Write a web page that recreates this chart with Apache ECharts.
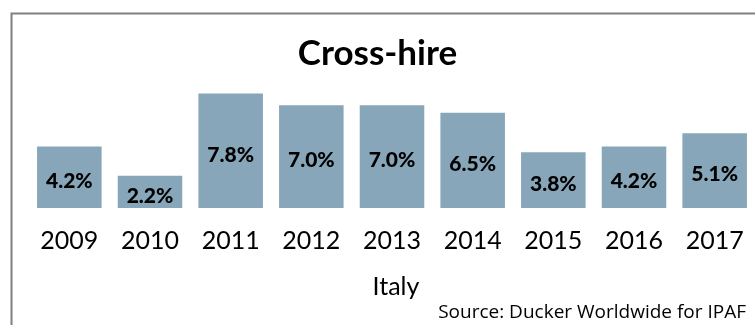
<!DOCTYPE html>
<html>
<head>
<meta charset="utf-8">
<script src="https://cdn.jsdelivr.net/npm/echarts@6/dist/echarts.min.js"></script>
<style>
html,body{margin:0;padding:0;background:#fff;}
#c{width:755px;height:325px;}
</style>
</head>
<body>
<div id="c"></div>
<script>
const categories = ['2009','2010','2011','2012','2013','2014','2015','2016','2017'];
const values = [4.2, 2.2, 7.8, 7.0, 7.0, 6.5, 3.8, 4.2, 5.1];
const titleText = 'Cross-hire';
const axisName = 'Italy';
const sourceText = 'Source: Ducker Worldwide for IPAF';

const FONT = 'Lato, "Open Sans", sans-serif';
const chart = echarts.init(document.getElementById('c'), null, {renderer: 'canvas'});
chart.setOption({
  backgroundColor: '#fff',
  animation: false,
  title: {
    text: titleText,
    left: 'center',
    top: 30,
    textStyle: {fontFamily: FONT, fontWeight: 'bold', fontSize: 35, color: '#000', lineHeight: 38}
  },
  grid: {left: 29, right: -5, top: 61.3, bottom: 117, containLabel: false},
  xAxis: {
    type: 'category',
    data: categories,
    axisLine: {show: false},
    axisTick: {show: false},
    axisLabel: {fontFamily: FONT, fontSize: 25, color: '#000', margin: 20, lineHeight: 25, interval: 0}
  },
  yAxis: {
    type: 'value', min: 0, max: 10,
    show: false,
    splitLine: {show: false}
  },
  series: [{
    type: 'bar',
    data: values,
    barCategoryGap: '20%',
    itemStyle: {color: '#87A6B9'},
    label: {
      show: true,
      position: 'inside',
      offset: [0, 4],
      formatter: p => p.value.toFixed(1) + '%',
      fontFamily: FONT, fontWeight: 900, fontSize: 21, color: '#000'
    }
  }],
  graphic: [
    {type: 'rect', left: 9, top: 11, shape: {width: 760, height: 330},
     style: {fill: 'none', stroke: '#808080', lineWidth: 2}, z: -1},
    {type: 'text', x: 396, y: 287,
     style: {text: axisName, fontFamily: FONT, fontSize: 25, fill: '#000', textAlign: 'center', textVerticalAlign: 'middle'}},
    {type: 'text', x: 746, y: 313,
     style: {text: sourceText, fontFamily: '"Open Sans", sans-serif', fontSize: 19, fill: '#000', textAlign: 'right', textVerticalAlign: 'middle'}}
  ]
});
</script>
</body>
</html>
